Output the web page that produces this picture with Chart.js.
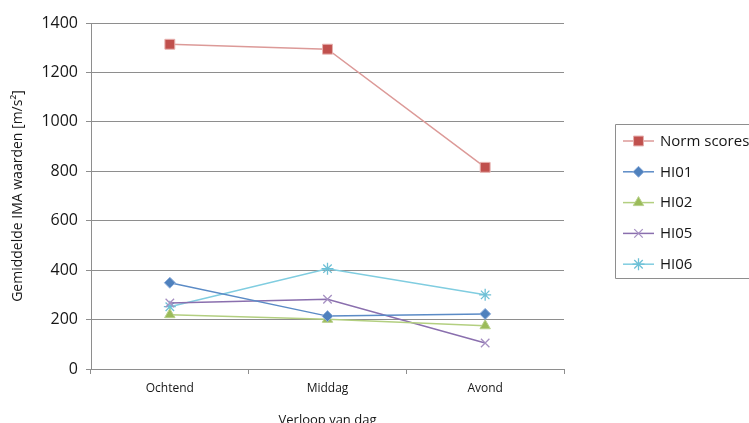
<!DOCTYPE html>
<html>
<head>
<meta charset="utf-8">
<script src="https://cdn.jsdelivr.net/npm/chart.js"></script>
<style>
  html, body { margin: 0; padding: 0; background: #fff; overflow: hidden; }
  canvas { display: block; }
</style>
</head>
<body>
<canvas id="imaChart" width="749" height="423"></canvas>
<script>
// moments of the day
var categories = ['Ochtend', 'Middag', 'Avond'];

// mean IMA values per moment [m/s²]
var normScores = [1314, 1294, 816];
var hi01 = [349, 214, 223];
var hi02 = [220, 201, 175];
var hi05 = [267, 282, 105];
var hi06 = [252, 406, 300];

var yTickValues = [0, 200, 400, 600, 800, 1000, 1200, 1400];

var axisGrey = '#8e8e8e';
var textColour = '#161616';

// Excel-like legend on the right: line sample with marker, then label, inside a grey box
// that runs on past the right edge of the canvas
var sideLegend = {
    id: 'sideLegend',
    afterDraw: function(chart) {
        var ctx = chart.ctx;
        ctx.save();
        ctx.strokeStyle = axisGrey;
        ctx.lineWidth = 1;
        ctx.beginPath();
        ctx.moveTo(chart.width + 20, 124.5);
        ctx.lineTo(615.5, 124.5);
        ctx.lineTo(615.5, 278.5);
        ctx.lineTo(chart.width + 20, 278.5);
        ctx.stroke();

        chart.data.datasets.forEach(function(ds, i) {
            var y = 141 + i * 30.8;
            ctx.strokeStyle = ds.borderColor;
            ctx.lineWidth = ds.borderWidth;
            ctx.beginPath();
            ctx.moveTo(623, y);
            ctx.lineTo(654, y);
            ctx.stroke();

            ctx.fillStyle = ds.pointBackgroundColor;
            ctx.strokeStyle = ds.pointBorderColor;
            ctx.lineWidth = ds.pointBorderWidth;
            Chart.helpers.drawPoint(ctx, {
                pointStyle: ds.pointStyle,
                radius: ds.pointRadius,
                rotation: 0,
                borderWidth: ds.pointBorderWidth
            }, 638.5, y);

            ctx.fillStyle = textColour;
            ctx.font = '15px "Open Sans"';
            ctx.textAlign = 'left';
            ctx.textBaseline = 'middle';
            ctx.fillText(ds.label, 660, y + 0.5);
        });
        ctx.restore();
    }
};

function series(label, data, line, fill, border, style, radius) {
    return {
        label: label,
        data: data,
        borderColor: line,
        borderWidth: 1.5,
        pointStyle: style,
        pointRadius: radius,
        pointHoverRadius: radius,
        pointBackgroundColor: fill,
        pointBorderColor: border,
        pointBorderWidth: style === 'crossRot' || style === 'star' ? 1.3 : 1,
        tension: 0,
        fill: false
    };
}

new Chart(document.getElementById('imaChart'), {
    type: 'line',
    data: {
        labels: categories,
        datasets: [
            series('Norm scores', normScores, '#dc9a98', '#c0504d', '#e6b1af', 'rect', 7),
            series('HI01', hi01, '#5b8bc6', '#4f81bd', '#8eaedb', 'rectRot', 5.5),
            series('HI02', hi02, '#b3cf80', '#9bbb59', '#b7d08a', 'triangle', 6),
            series('HI05', hi05, '#8a6fae', '#b3a2c7', '#a690c2', 'crossRot', 6),
            series('HI06', hi06, '#80cde0', '#4bacc6', '#6ec0d6', 'star', 6)
        ]
    },
    options: {
        responsive: false,
        animation: false,
        events: [],
        layout: { padding: { top: 23, right: 185, left: 0, bottom: 0 } },
        plugins: {
            legend: { display: false },
            tooltip: { enabled: false }
        },
        scales: {
            x: {
                type: 'category',
                offset: true,
                grid: {
                    offset: true,
                    drawOnChartArea: false,
                    drawTicks: true,
                    tickLength: 5,
                    color: axisGrey
                },
                border: { color: axisGrey, width: 1 },
                ticks: {
                    color: textColour,
                    font: { family: 'Open Sans', size: 12 },
                    padding: 7,
                    maxRotation: 0
                },
                title: {
                    display: true,
                    text: 'Verloop van dag',
                    color: textColour,
                    font: { family: 'Open Sans', size: 13, lineHeight: 1 },
                    padding: { top: 0, bottom: -4 }
                },
                afterFit: function(scale) { scale.height = 54; }
            },
            y: {
                min: 0,
                max: 1400,
                afterBuildTicks: function(scale) {
                    scale.ticks = yTickValues.map(function(v) { return { value: v }; });
                },
                grid: {
                    color: axisGrey,
                    lineWidth: 1,
                    tickLength: 5
                },
                border: { color: axisGrey, width: 1 },
                ticks: {
                    color: textColour,
                    font: { family: 'Open Sans', size: 16 },
                    padding: 8,
                    callback: function(value) { return String(value); }
                },
                title: {
                    display: true,
                    text: 'Gemiddelde IMA waarden [m/s²]',
                    color: textColour,
                    font: { family: 'Open Sans', size: 14 },
                    padding: { top: 10, bottom: 0 }
                },
                afterFit: function(scale) { scale.width = 91; }
            }
        }
    },
    plugins: [sideLegend]
});
</script>
</body>
</html>
